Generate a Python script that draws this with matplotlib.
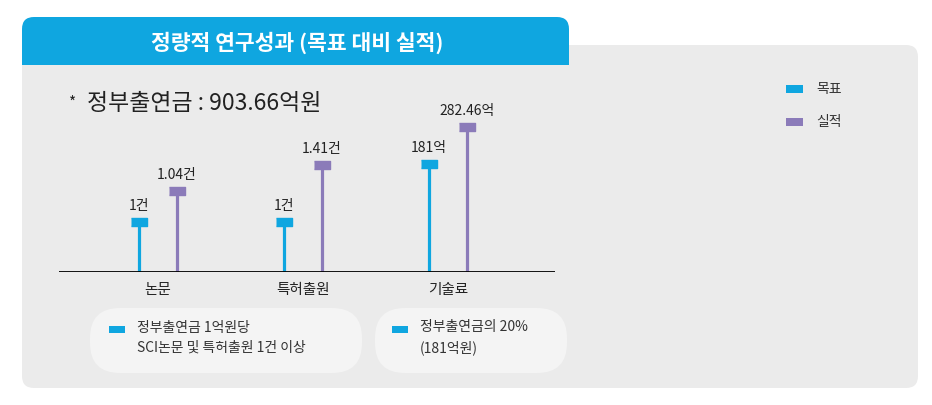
import numpy as np
import matplotlib.pyplot as plt
from matplotlib.patches import FancyBboxPatch, Rectangle

plt.rcParams['font.family'] = ['Noto Sans CJK KR', 'DejaVu Sans']

# Data
categories = ['논문', '특허출원', '기술료']
target_labels = ['1건', '1건', '181억']
actual_labels = ['1.04건', '1.41건', '282.46억']
# stem heights as drawn in the infographic (not to scale, in units of "1건")
target_h = [1.0, 1.0, 2.16]
actual_h = [1.62, 2.14, 2.9]
legend_labels = ['목표', '실적']
notes = ['정부출연금 1억원당\nSCI논문 및 특허출원 1건 이상', '정부출연금의 20%\n(181억원)']

BLUE = '#0fa6e0'
PURPLE = '#8b7bb9'
PANEL = '#ebebeb'
NOTEBOX = '#f4f4f4'

W, H = 932, 405
fig = plt.figure(figsize=(W / 100, H / 100), dpi=100)
fig.patch.set_facecolor('white')

# background layer in pixel coordinates
bg = fig.add_axes([0, 0, 1, 1])
bg.set_xlim(0, W)
bg.set_ylim(H, 0)
bg.axis('off')

bg.add_patch(FancyBboxPatch((22 + 12, 45 + 12), 896 - 24, 343 - 24,
                            boxstyle='round,pad=12', fc=PANEL, ec='none'))
# header: rounded top, square bottom
bg.add_patch(FancyBboxPatch((22 + 12, 17 + 12), 547 - 24, 48 - 24,
                            boxstyle='round,pad=12', fc=BLUE, ec='none'))
bg.add_patch(Rectangle((22, 42), 547, 23, fc=BLUE, ec='none'))
bg.text(297, 43, '정량적 연구성과 (목표 대비 실적)', color='white', fontsize=15.5,
        fontweight='bold', ha='center', va='center')

bg.text(73, 103, '*', fontsize=11, ha='center', va='center', color='#222222')
bg.text(87, 104, '정부출연금 : 903.66억원', fontsize=16.5, ha='left', va='center',
        color='#222222')

# note boxes under the chart
box_x = [90, 375]
box_w = [272, 192]
sq_x = [109, 392]
for bx, bw, sx, note in zip(box_x, box_w, sq_x, notes):
    bg.add_patch(FancyBboxPatch((bx + 30, 308 + 30), bw - 60, 65 - 60,
                                boxstyle='round,pad=30', fc=NOTEBOX, ec='none'))
    bg.add_patch(Rectangle((sx, 326), 16, 7, fc=BLUE, ec='none'))
    bg.text(sx + 28, 338, note, fontsize=10, ha='left', va='center',
            color='#333333', linespacing=1.55)

# legend
leg_colors = [BLUE, PURPLE]
for i, (lab, c) in enumerate(zip(legend_labels, leg_colors)):
    y = 89 + i * 33
    bg.add_patch(Rectangle((786, y - 4), 17, 8, fc=c, ec='none'))
    bg.text(816, y, lab, fontsize=10, ha='left', va='center', color='#333333')

# lollipop chart
px = 145.0  # pixels per category step
ax = fig.add_axes([59 / W, (H - 272) / H, (555 - 59) / W, 200 / H])
ax.set_xlim((59 - 158) / px, (555 - 158) / px)
ax.set_ylim(0, 4)
ax.patch.set_alpha(0)
for s in ax.spines.values():
    s.set_visible(False)
ax.axhline(0, color='black', lw=1.3, zorder=3)
ax.set_yticks([])
ax.set_xticks(range(len(categories)))
ax.set_xticklabels(categories, fontsize=10.5, color='#222222')
ax.tick_params(axis='x', length=0, pad=8)

x = np.arange(len(categories))
off = 19 / px
rect = [(-1, -0.5), (1, -0.5), (1, 0.5), (-1, 0.5)]
for xs, hs, labs, c in [(x - off, target_h, target_labels, BLUE),
                        (x + off, actual_h, actual_labels, PURPLE)]:
    ax.vlines(xs, 0, hs, color=c, lw=2.3, zorder=2)
    ax.plot(xs, hs, ls='none', marker=rect, ms=11.5, color=c, zorder=4)
    for xi, hi, lab in zip(xs, hs, labs):
        ax.annotate(lab, (xi, hi), xytext=(0, 6.5), textcoords='offset points',
                    ha='center', va='bottom', fontsize=10, color='#222222')

fig.savefig('out.png', dpi=100)
